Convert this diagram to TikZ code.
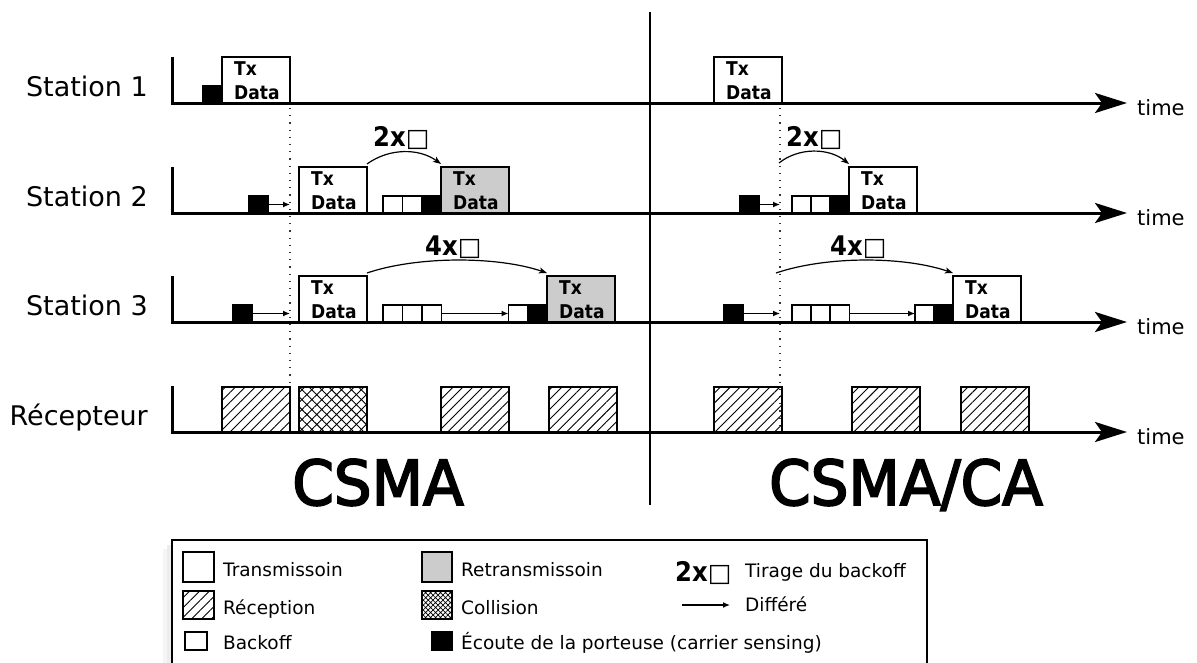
\documentclass[tikz,border=0pt]{standalone}
\usepackage{fontspec}
\setmainfont{DejaVu Sans}
\newfontfamily\condfont[FakeStretch=0.9]{DejaVu Sans}
\newfontfamily\bigfont[FakeBold=3,FakeStretch=0.96]{DejaVu Sans}
\usetikzlibrary{arrows.meta,patterns.meta}
\newcommand{\bkmark}[1]{{\condfont\bfseries #1}{\fontsize{25}{28}\selectfont\mdseries □}}
\begin{document}
\begin{tikzpicture}[x=1pt,y=-1pt,
 lbl/.style={font=\fontsize{27}{32}\selectfont, anchor=base east, inner sep=0},
 timelbl/.style={font=\fontsize{21}{25}\selectfont, anchor=base west, inner sep=0},
 axisline/.style={line width=3pt, -{Stealth[length=32pt,width=20pt,inset=7pt]}},
 txbox/.style={draw, line width=1.5pt, fill=white, inner sep=0, outer sep=0, minimum width=68pt, minimum height=46pt, anchor=south west},
 rtxbox/.style={txbox, fill=black!20},
 txtext/.style={font=\fontsize{19}{24}\selectfont\condfont\bfseries, align=left, anchor=north west, inner sep=0},
 bkbox/.style={draw, line width=1.5pt, fill=white, inner sep=0, outer sep=0, minimum width=19.5pt, minimum height=17pt, anchor=south west},
 csbox/.style={bkbox, fill=black},
 defer/.style={line width=1.3pt, -{Latex[length=7pt,width=6pt]}},
 bkarc/.style={line width=1.2pt, -{Stealth[length=8pt,width=6pt,inset=2pt]}},
 bklbl/.style={font=\fontsize{27}{30}\selectfont, anchor=base west, inner sep=0},
 rxbox/.style={draw, line width=1.5pt, inner sep=0, outer sep=0, minimum width=68pt, minimum height=45pt, anchor=south west, pattern={Lines[angle=45,distance=7pt,line width=0.9pt]}},
 colbox/.style={rxbox, pattern={Hatch[angle=45,distance=7pt,line width=0.9pt]}},
 dotline/.style={line width=1.2pt, dash pattern=on 1.2pt off 6pt, black!80},
 big/.style={font=\fontsize{62}{70}\selectfont\bigfont, anchor=base, inner sep=0},
 lgtext/.style={font=\fontsize{18.5}{22}\selectfont, anchor=base west, inner sep=0},
 lgbox/.style={draw, line width=1.5pt, inner sep=0, outer sep=0, fill=white}
]
\useasboundingbox (0,0) rectangle (1197,662);
\fill[white] (0,0) rectangle (1197,662);

% separator and dotted lines
\draw[line width=2pt] (650,12) -- (650,505);
\coordinate (dA) at (290,108);
\coordinate (dB) at (780,108);
\draw[dotline] (dA) -- (290,432);
\draw[dotline] (dB) -- (780,432);

% axes
\foreach \yy in {103,213,322,432}{
  \draw[axisline] (172,\yy-46) |- (1127,\yy);
}
\node[lbl] (l1) at (148,96) {Station 1};
\node[lbl] (l2) at (148,206) {Station 2};
\node[lbl] (l3) at (148,315) {Station 3};
\node[lbl] (l4) at (148,425) {Récepteur};
\node[timelbl] (t1) at (1137,115) {time};
\node[timelbl] (t2) at (1137,225) {time};
\node[timelbl] (t3) at (1137,334) {time};
\node[timelbl] (t4) at (1137,444) {time};

% ---------- CSMA ----------
% Station 1
\node[csbox] (s1cs) at (203,103) {};
\node[txbox] (s1tx) at (222,103) {};
\node[txtext] (s1txl) at ([xshift=12pt,yshift=-4.3pt]s1tx.north west) {Tx\\Data};
% Station 2
\node[csbox] (s2cs) at (249,213) {};
\draw[defer] (s2cs.east) -- (s2cs.east -| dA);
\node[txbox] (s2tx) at (299,213) {};
\node[txtext] (s2txl) at ([xshift=12pt,yshift=-4.3pt]s2tx.north west) {Tx\\Data};
\node[bkbox] (s2b1) at (383,213) {};
\node[bkbox] (s2b2) at (402.5,213) {};
\node[csbox] (s2cs2) at (422,213) {};
\node[rtxbox] (s2rtx) at (441,213) {};
\node[txtext] (s2rtxl) at ([xshift=12pt,yshift=-4.3pt]s2rtx.north west) {Tx\\Data};
\draw[bkarc] ([yshift=3pt]s2tx.north east) .. controls +(22,-16) and +(-22,-16) .. ([yshift=3pt]s2rtx.north west);
\node[bklbl] (s2k) at (373,146) {\bkmark{2x}};
% Station 3
\node[csbox] (s3cs) at (233,322) {};
\draw[defer] (s3cs.east) -- (s3cs.east -| dA);
\node[txbox] (s3tx) at (299,322) {};
\node[txtext] (s3txl) at ([xshift=12pt,yshift=-4.3pt]s3tx.north west) {Tx\\Data};
\node[bkbox] (s3b1) at (383,322) {};
\node[bkbox] (s3b2) at (402.5,322) {};
\node[bkbox] (s3b3) at (422,322) {};
\node[bkbox] (s3b4) at (508.5,322) {};
\draw[defer] (s3b3.east) -- (s3b4.west);
\node[csbox] (s3cs2) at (528,322) {};
\node[rtxbox] (s3rtx) at (547,322) {};
\node[txtext] (s3rtxl) at ([xshift=12pt,yshift=-4.3pt]s3rtx.north west) {Tx\\Data};
\draw[bkarc] ([yshift=3pt]s3tx.north east) .. controls +(50,-17) and +(-50,-17) .. ([yshift=3pt]s3rtx.north west);
\node[bklbl] (s3k) at (425,255) {\bkmark{4x}};
% Receiver
\node[rxbox] (r1) at (222,432) {};
\node[colbox] (r2) at (299,432) {};
\node[rxbox] (r3) at (441,432) {};
\node[rxbox] (r4) at (549,432) {};
\node[big] (csma) at (378,505) {CSMA};

% ---------- CSMA/CA ----------
\node[txbox] (c1tx) at (714,103) {};
\node[txtext] (c1txl) at ([xshift=12pt,yshift=-4.3pt]c1tx.north west) {Tx\\Data};
% Station 2
\node[csbox] (c2cs) at (740,213) {};
\draw[defer] (c2cs.east) -- (c2cs.east -| dB);
\node[bkbox] (c2b1) at (792,213) {};
\node[bkbox] (c2b2) at (811,213) {};
\node[csbox] (c2cs2) at (830,213) {};
\node[txbox] (c2tx) at (849,213) {};
\node[txtext] (c2txl) at ([xshift=12pt,yshift=-4.3pt]c2tx.north west) {Tx\\Data};
\coordinate (c2a) at (779,163);
\draw[bkarc] (c2a) .. controls +(20,-16) and +(-20,-16) .. ([yshift=3pt]c2tx.north west);
\node[bklbl] (c2k) at (786,146) {\bkmark{2x}};
% Station 3
\node[csbox] (c3cs) at (724,322) {};
\draw[defer] (c3cs.east) -- (c3cs.east -| dB);
\node[bkbox] (c3b1) at (792,322) {};
\node[bkbox] (c3b2) at (811,322) {};
\node[bkbox] (c3b3) at (830,322) {};
\node[bkbox] (c3b4) at (915,322) {};
\draw[defer] (c3b3.east) -- (c3b4.west);
\node[csbox] (c3cs2) at (934,322) {};
\node[txbox] (c3tx) at (953,322) {};
\node[txtext] (c3txl) at ([xshift=12pt,yshift=-4.3pt]c3tx.north west) {Tx\\Data};
\coordinate (c3a) at (776,273);
\draw[bkarc] (c3a) .. controls +(50,-17) and +(-50,-17) .. ([yshift=3pt]c3tx.north west);
\node[bklbl] (c3k) at (830,255) {\bkmark{4x}};
% Receiver
\node[rxbox] (q1) at (714,432) {};
\node[rxbox] (q2) at (852,432) {};
\node[rxbox] (q3) at (961,432) {};
\node[big] (csmaca) at (906,505) {CSMA/CA};

% ---------- Legend ----------
\fill[black,opacity=0.07] (167,545) rectangle (172,663);
\fill[black,opacity=0.04] (163,549) rectangle (167,663);
\fill[white] (172,540) rectangle (927,663);
\draw[line width=1.5pt] (172,663) |- (927,540) -- (927,663);
\node[lgbox, minimum width=31pt, minimum height=30pt] (lg1) at (198.5,567) {};
\node[lgtext] (lt1) at (223,576) {Transmissoin};
\node[lgbox, minimum width=31pt, minimum height=28pt, pattern={Lines[angle=45,distance=7pt,line width=0.9pt]}] (lg2) at (198.5,605) {};
\node[lgtext] (lt2) at (223,614) {Réception};
\node[lgbox, minimum width=22pt, minimum height=18pt] (lg3) at (196,641) {};
\node[lgtext] (lt3) at (223,649) {Backoff};
\node[lgbox, minimum width=30pt, minimum height=30pt, fill=black!20] (lg4) at (437,567) {};
\node[lgtext] (lt4) at (461,576) {Retransmissoin};
\node[lgbox, minimum width=30pt, minimum height=28pt, pattern={Hatch[angle=45,distance=3.5pt,line width=0.7pt]}] (lg5) at (437,605) {};
\node[lgtext] (lt5) at (461,614) {Collision};
\node[lgbox, minimum width=20pt, minimum height=18pt, fill=black] (lg6) at (442,641) {};
\node[lgtext] (lt6) at (461,649) {Écoute de la porteuse (carrier sensing)};
\node[bklbl] (lg7) at (675,581) {\bkmark{2x}};
\node[lgtext] (lt7) at (745,577) {Tirage du backoff};
\coordinate (la1) at (682,605);
\coordinate (la2) at (730,605);
\draw[defer] (la1) -- (la2);
\node[lgtext] (lt8) at (745,611) {Différé};
\end{tikzpicture}
\end{document}
